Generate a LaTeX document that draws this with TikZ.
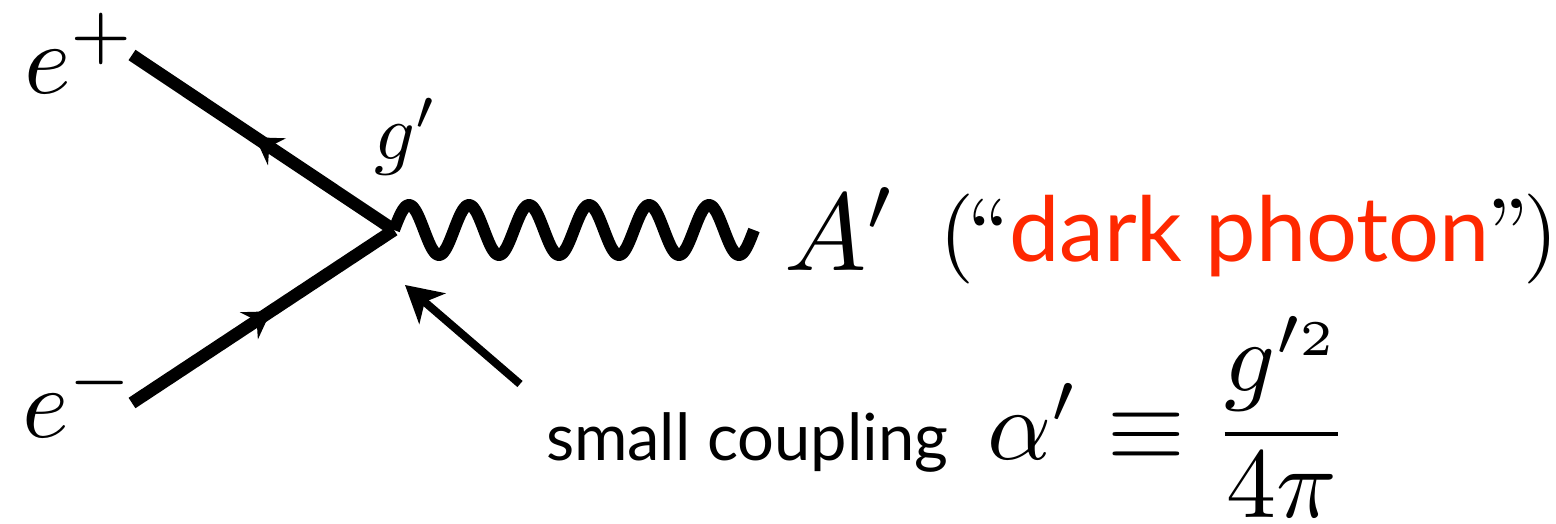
\documentclass[tikz,border=0pt]{standalone}
\usepackage{graphicx}
\usepackage{fontspec}
\setsansfont{Lato}
\usetikzlibrary{arrows.meta,decorations.markings}
\definecolor{darkred}{RGB}{255,40,0}
\tikzset{
  fermion/.style={line width=12.5pt,
    decoration={markings, mark=at position 0.53 with {\arrow{Stealth[length=26pt,width=32pt,inset=9pt]}}},
    postaction={decorate}},
  photon/.style={line width=12pt, line join=round},
  pointer/.style={line width=8pt, -{Stealth[length=36pt,width=40pt,inset=10pt]}},
  lbl/.style={anchor=base west, inner sep=0pt, outer sep=0pt}
}
\begin{document}
\begin{tikzpicture}[x=1pt,y=-1pt]
\useasboundingbox (0,0) rectangle (1556,523);
\coordinate (v) at (394,230);
\coordinate (ep) at (132,55);
\coordinate (em) at (132,403);
\coordinate (ctail) at (520,384);
\coordinate (ctip) at (405,285);
% fermion lines
\draw[fermion] (v) -- (ep);
\draw[fermion] (em) -- (v);
% photon
\draw[photon] plot[domain=0:360,samples=241,smooth] ({394+\x},{230-25*sin(6*\x)});
% coupling arrow
\draw[pointer] (ctail) -- (ctip);
% labels
\node[lbl] (lep) at (24,93) {\scalebox{10}{$e^+$}};
\node[lbl] (lem) at (22,437) {\scalebox{10}{$e^-$}};
\node[lbl] (lg) at (374,159) {\scalebox{8}{$g'$}};
\node[lbl] (lA) at (784,270) {\scalebox{11}{$A'$}};
\node[lbl] (ldark) at (939,261) {\scalebox{9}{(\kern-0.78pt``\kern-0.05pt\textcolor{darkred}{\sffamily dark photon}\kern-0.4pt''\kern-0.6pt)}};
\node[lbl] (lsmall) at (546,460) {\scalebox{6.5}{\sffamily small coupling}};
\node[lbl] (leq) at (987,459) {\scalebox{10}{$\alpha' \equiv \displaystyle\frac{g^{\prime\scriptscriptstyle 2}}{\raisebox{1pt}{$\displaystyle 4\pi$}}$}};
\end{tikzpicture}
\end{document}
